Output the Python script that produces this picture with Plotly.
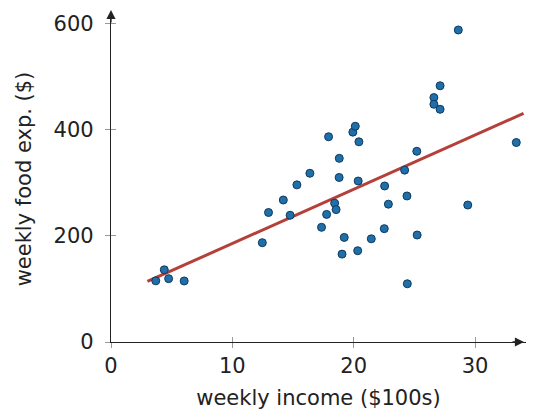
import plotly.graph_objects as go

income = [3.69, 4.39, 4.75, 6.03, 12.47, 12.98, 14.20, 14.76, 15.32, 16.39,
          17.35, 17.77, 17.93, 18.43, 18.55, 18.80, 18.81, 19.04, 19.22, 19.93,
          20.13, 20.33, 20.37, 20.43, 21.45, 22.52, 22.55, 22.86, 24.20, 24.39,
          24.42, 25.20, 25.23, 26.61, 26.61, 27.12, 27.12, 28.62, 29.40, 33.40]
food_exp = [115.22, 135.98, 119.34, 114.96, 187.05, 243.92, 267.43, 238.71, 295.94, 317.78,
            216.00, 240.35, 386.57, 261.53, 249.34, 309.87, 345.89, 165.54, 196.98, 395.26,
            406.34, 171.92, 303.23, 377.04, 194.35, 213.48, 293.87, 259.61, 323.71, 275.02,
            109.71, 359.19, 201.51, 460.36, 447.76, 482.55, 438.29, 587.66, 257.95, 375.73]

# fitted regression line
b1, b2 = 83.42, 10.21
line_x = [3.0, 34.0]
line_y = [b1 + b2 * v for v in line_x]

x_ticks = [0, 10, 20, 30]
y_ticks = [0, 200, 400, 600]
x_max, y_max = 34.2, 614

FONT = "DejaVu Sans"

fig = go.Figure()
fig.add_trace(go.Scatter(x=line_x, y=line_y, mode="lines",
                         line=dict(color="#b5403a", width=3), hoverinfo="skip",
                         cliponaxis=False))
fig.add_trace(go.Scatter(x=income, y=food_exp, mode="markers",
                         marker=dict(size=8, color="#1f6fab",
                                     line=dict(color="#113a5c", width=1)),
                         cliponaxis=False))

axis_common = dict(showgrid=False, zeroline=False, automargin=False)
fig.update_layout(
    width=518, height=402,
    margin=dict(l=103, r=0, t=8, b=68),
    plot_bgcolor="white", paper_bgcolor="white",
    showlegend=False,
    font=dict(family=FONT, size=21, color="#222"),
    xaxis=dict(range=[0, x_max], tickvals=x_ticks, ticks="outside", ticklen=5,
               tickcolor="#999", tickwidth=1.2, showline=True, linecolor="#222",
               linewidth=1.2, ticklabeloverflow="allow",
               title=dict(text="weekly income ($100s)", standoff=13,
                          font=dict(size=21)),
               **axis_common),
    yaxis=dict(range=[0, y_max], tickvals=y_ticks, ticks="outside", ticklen=5,
               tickcolor="#999", tickwidth=1.2, showline=True, linecolor="#222",
               linewidth=1.2, ticklabelstandoff=7, ticklabeloverflow="allow",
               title=dict(text="weekly food exp. ($)", standoff=16,
                          font=dict(size=21)),
               **axis_common),
    xaxis2=dict(overlaying="x", matches="x", range=[0, x_max], tickvals=x_ticks,
                ticks="inside", ticklen=5, tickcolor="#999", tickwidth=1.2,
                showticklabels=False, side="bottom", anchor="y", **axis_common),
    yaxis2=dict(overlaying="y", matches="y", range=[0, y_max], tickvals=y_ticks,
                ticks="inside", ticklen=5, tickcolor="#999", tickwidth=1.2,
                showticklabels=False, side="left", anchor="x", **axis_common),
)
# dummy trace to activate the overlay axes
fig.add_trace(go.Scatter(x=[None], y=[None], xaxis="x2", yaxis="y2", hoverinfo="skip"))

# arrowheads at the axis ends (paper coordinates: end of each axis line)
fig.add_annotation(x=1, y=0, xref="paper", yref="paper", ax=-14, ay=0, xshift=-1,
                   showarrow=True, arrowhead=2, arrowsize=1.4, arrowwidth=1.3,
                   arrowcolor="#222", text="")
fig.add_annotation(x=0, y=1, xref="paper", yref="paper", ax=0, ay=14, yshift=6,
                   showarrow=True, arrowhead=2, arrowsize=1.4, arrowwidth=1.3,
                   arrowcolor="#222", text="")

fig.write_html("out.html")
